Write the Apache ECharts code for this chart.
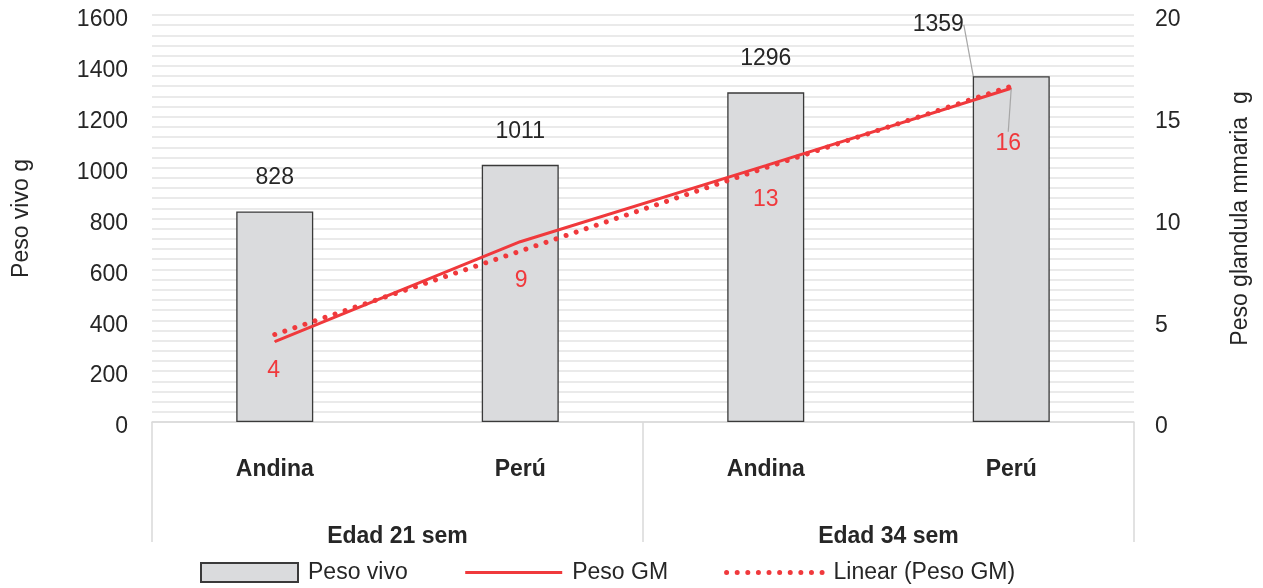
<!DOCTYPE html>
<html>
<head>
<meta charset="utf-8">
<script src="https://cdn.jsdelivr.net/npm/echarts@6/dist/echarts.min.js"></script>
<style>
html,body{margin:0;padding:0;background:#fff;}
#chart{width:1263px;height:588px;}
</style>
</head>
<body>
<div id="chart"></div>
<script>
// ---- data ----
var categories = ['Andina', 'Perú', 'Andina', 'Perú'];
var groups = ['Edad 21 sem', 'Edad 34 sem'];
var pesoVivo = [828, 1011, 1296, 1359];
var pesoGM = [3.95, 8.86, 12.6, 16.4];
var trendGM = [4.3, 8.4, 12.5, 16.5];
var leftTicks = { min: 0, max: 1600, interval: 200 };
var rightTicks = { min: 0, max: 20, interval: 5 };
var seriesNames = ['Peso vivo', 'Peso GM', 'Linear (Peso GM)'];

// ---- styling (kept apart from data) ----
var RED = '#f0393c';
var TXT = '#262626';
var GRID = '#e3e3e3';
var FONT = "'Liberation Sans', Arial, sans-serif";
var gmLabelShift = [[-1, 12], [1, 22], [0, 17.5], [-3, 38]];
var barLabelShift = [[0, 0], [0, 0], [0, 0], [-73, -18]];
var DOTS = [0.01, 10.6];

var chart = echarts.init(document.getElementById('chart'), null, { renderer: 'canvas' });

var barData = pesoVivo.map(function (v, i) {
  return i === 3 ? { value: v, labelLine: { show: true } } : { value: v, labelLine: { show: false } };
});
var gmData = pesoGM.map(function (v, i) {
  return i === 3 ? { value: v, labelLine: { show: true } } : { value: v, labelLine: { show: false } };
});

var tickLabel = {
  fontSize: 23, color: TXT, fontFamily: FONT,
  verticalAlign: 'top', lineHeight: 10,
  formatter: function (v) { return String(v); }
};

var option = {
  animation: false,
  textStyle: { fontFamily: FONT },
  grid: { left: 152, right: 129, top: 15, bottom: 166, containLabel: false },
  legend: {
    data: [
      { name: seriesNames[0], icon: 'rect' },
      { name: seriesNames[1], itemStyle: { opacity: 0 }, lineStyle: { width: 3 } },
      { name: seriesNames[2], itemStyle: { opacity: 0 }, lineStyle: { width: 5, type: DOTS, cap: 'round', color: RED } }
    ],
    left: 200,
    top: 561,
    padding: 0,
    itemWidth: 97,
    itemHeight: 19,
    itemGap: 56,
    textStyle: { fontSize: 23, color: TXT, fontFamily: FONT, padding: [0, 0, 0, 5] }
  },
  xAxis: [
    {
      type: 'category',
      data: categories,
      position: 'bottom',
      axisLine: { show: true, lineStyle: { color: '#d9d9d9', width: 1.5 } },
      axisTick: { show: false },
      axisLabel: { interval: 0, margin: 36, fontSize: 23, fontWeight: 'bold', color: TXT, fontFamily: FONT },
      splitLine: { show: false }
    },
    {
      type: 'category',
      data: groups,
      position: 'bottom',
      axisLine: { show: false, onZero: false },
      axisTick: { show: true, interval: 0, length: 120, lineStyle: { color: '#d9d9d9', width: 1.5 } },
      axisLabel: { interval: 0, margin: 103, fontSize: 23, fontWeight: 'bold', color: TXT, fontFamily: FONT },
      splitLine: { show: false }
    }
  ],
  yAxis: [
    {
      type: 'value',
      min: leftTicks.min, max: leftTicks.max, interval: leftTicks.interval,
      position: 'left',
      name: 'Peso vivo g',
      nameLocation: 'middle',
      nameRotate: 90,
      nameGap: 119,
      nameTextStyle: { fontSize: 23, color: TXT, fontFamily: FONT },
      axisLine: { show: false },
      axisTick: { show: false },
      axisLabel: Object.assign({ margin: 24 }, tickLabel),
      splitLine: { show: true, lineStyle: { color: GRID, width: 1.5 } },
      minorTick: { show: false, splitNumber: 5 },
      minorSplitLine: { show: true, lineStyle: { color: GRID, width: 1.5 } }
    },
    {
      type: 'value',
      min: rightTicks.min, max: rightTicks.max, interval: rightTicks.interval,
      position: 'right',
      name: 'Peso glandula mmaria  g',
      nameLocation: 'middle',
      nameRotate: 90,
      nameGap: 95,
      nameTextStyle: { fontSize: 23, color: TXT, fontFamily: FONT },
      axisLine: { show: false },
      axisTick: { show: false },
      axisLabel: Object.assign({ margin: 21 }, tickLabel),
      splitLine: { show: false }
    }
  ],
  series: [
    {
      name: seriesNames[0],
      type: 'bar',
      xAxisIndex: 0,
      yAxisIndex: 0,
      data: barData,
      barWidth: 77,
      itemStyle: { color: '#dadbdd', borderColor: '#3a3a3a', borderWidth: 1.3 },
      label: { show: true, position: 'top', distance: 22, fontSize: 23, color: TXT, fontFamily: FONT },
      labelLine: { lineStyle: { color: '#a6a6a6', width: 1.2 } },
      labelLayout: function (p) {
        var s = barLabelShift[p.dataIndex];
        return { dx: s[0], dy: s[1] };
      }
    },
    {
      name: seriesNames[1],
      type: 'line',
      xAxisIndex: 0,
      yAxisIndex: 1,
      data: gmData,
      symbol: 'circle',
      symbolSize: 1,
      showSymbol: true,
      lineStyle: { color: RED, width: 3 },
      itemStyle: { color: RED },
      label: {
        show: true, position: 'bottom', distance: 5, fontSize: 23, color: RED, fontFamily: FONT,
        formatter: function (p) { return String(Math.round(p.value)); }
      },
      labelLine: { lineStyle: { color: '#a6a6a6', width: 1.2 } },
      labelLayout: function (p) {
        var s = gmLabelShift[p.dataIndex];
        return { dx: s[0], dy: s[1] };
      },
      z: 3
    },
    {
      name: seriesNames[2],
      type: 'line',
      xAxisIndex: 0,
      yAxisIndex: 1,
      data: trendGM,
      symbol: 'none',
      lineStyle: { color: RED, width: 5, type: DOTS, cap: 'round' },
      itemStyle: { color: RED },
      z: 4
    }
  ]
};
chart.setOption(option);
</script>
</body>
</html>
